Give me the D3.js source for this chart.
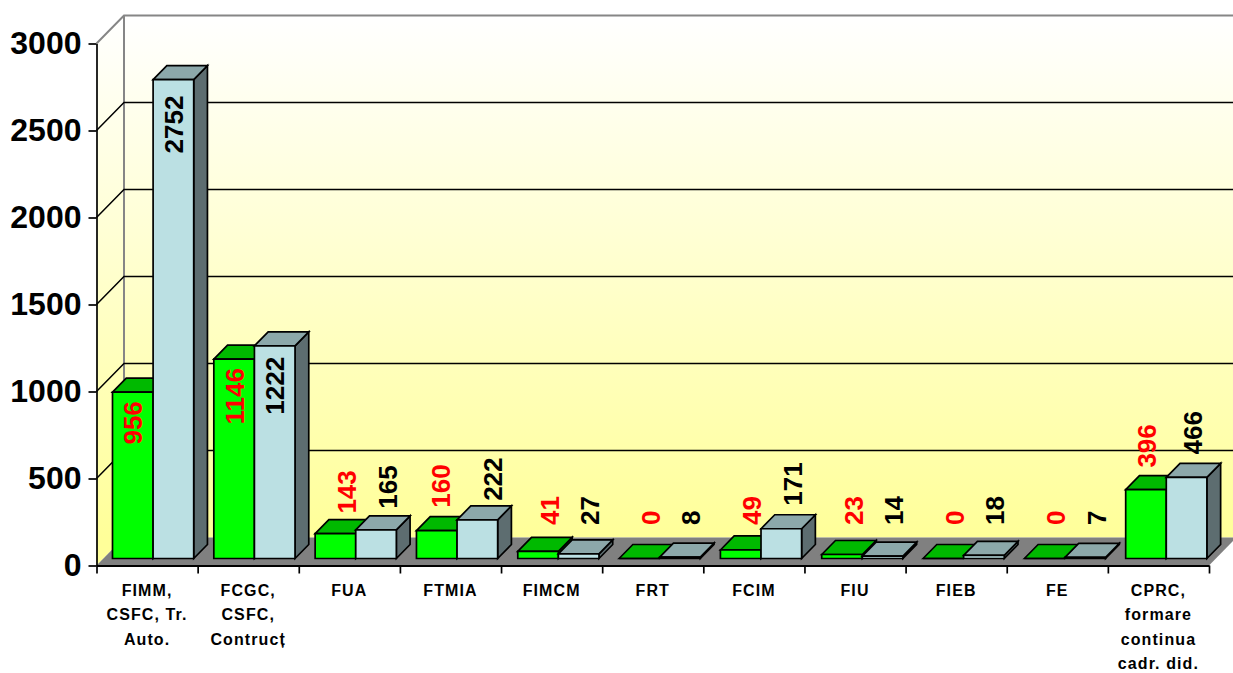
<!doctype html>
<html lang="ro">
<head>
  <meta charset="utf-8">
  <title>Studenti pe facultati</title>
  <script src="https://cdn.jsdelivr.net/npm/d3@7/dist/d3.min.js"></script>
  <style>
    html, body { margin: 0; background: #fff; }
    svg { display: block; }
    text { font-family: "Liberation Sans", Arial, sans-serif; font-weight: bold; }
  </style>
</head>
<body>
  <div id="svg_container"></div>
  <script>
  // one entry per label line
  var categories = [
    ["FIMM,", "CSFC, Tr.", "Auto."],
    ["FCGC,", "CSFC,", "Contruc\u021b"],
    ["FUA"],
    ["FTMIA"],
    ["FIMCM"],
    ["FRT"],
    ["FCIM"],
    ["FIU"],
    ["FIEB"],
    ["FE"],
    ["CPRC,", "formare", "continua", "cadr. did."]
  ];
  var greenValues = [956, 1146, 143, 160, 41, 0, 49, 23, 0, 0, 396];
  var blueValues = [2752, 1222, 165, 222, 27, 8, 171, 14, 18, 7, 466];
  var yTicks = [0, 500, 1000, 1500, 2000, 2500, 3000];

  var width = 1233,
      height = 673,
      axisLeft = 96.5,
      axisRight = 1209,
      axisBase = 565.5,
      axisTop = 43.5,
      depthX = 27.5,
      depthY = 28;

  var svg = d3.select("#svg_container").append("svg")
    .attr("width", width)
    .attr("height", height);

  var y = d3.scaleLinear().domain([0, 3000]).range([axisBase, axisTop]);
  var x = d3.scaleBand().domain(d3.range(categories.length)).range([axisLeft, axisRight]);
  // the bars drift about 2px to the right of the ticks over the whole width
  var xBar = d3.scaleBand().domain(d3.range(categories.length)).range([axisLeft, axisRight + 2]);
  var xEdge = d3.scaleLinear().domain([0, categories.length]).range([axisLeft, axisRight]);

  var backX = axisLeft + depthX,
      backBase = axisBase - depthY,
      backTop = axisTop - depthY;

  var grad = svg.append("defs").append("linearGradient")
    .attr("id", "wall")
    .attr("gradientUnits", "userSpaceOnUse")
    .attr("x1", 0).attr("x2", 0)
    .attr("y1", backTop).attr("y2", backBase);
  grad.append("stop").attr("offset", 0).attr("stop-color", "#ffffff");
  grad.append("stop").attr("offset", 1).attr("stop-color", "#ffff99");

  function poly(g, pts, fill, stroke, sw) {
    return g.append("polygon")
      .attr("points", pts.map(function(p) { return p.join(","); }).join(" "))
      .attr("fill", fill)
      .attr("stroke", stroke || "none")
      .attr("stroke-width", sw || 0)
      .attr("stroke-linejoin", "miter");
  }

  // walls and floor
  poly(svg, [[backX, backTop], [width + 5, backTop], [width + 5, backBase], [backX, backBase]], "url(#wall)");
  poly(svg, [[axisLeft, axisTop], [backX, backTop], [backX, backBase], [axisLeft, axisBase]], "url(#wall)");
  poly(svg, [[axisLeft, axisBase], [axisRight, axisBase], [axisRight + depthX, backBase], [backX, backBase]], "#808080");

  svg.append("path")
    .attr("d", "M" + axisLeft + "," + axisTop + "L" + backX + "," + backTop + "H" + (width + 5) +
               "M" + backX + "," + backTop + "V" + backBase)
    .attr("fill", "none")
    .attr("stroke", "#868686")
    .attr("stroke-width", 2);

  var grid = yTicks.filter(function(d) { return d > 0 && d < 3000; });
  svg.selectAll(".grid")
    .data(grid)
    .enter().append("path")
    .attr("class", "grid")
    .attr("d", function(d) {
      return "M" + axisLeft + "," + y(d) + "L" + backX + "," + (y(d) - depthY) + "H" + (width + 5);
    })
    .attr("fill", "none")
    .attr("stroke", "#000")
    .attr("stroke-width", 1.5);

  // axes
  var yAxis = svg.append("g")
    .attr("transform", "translate(" + axisLeft + ",0)")
    .call(d3.axisLeft(y).tickValues(yTicks).tickFormat(d3.format("d")).tickSize(8).tickPadding(7).tickSizeOuter(0));
  yAxis.selectAll("text").attr("font-size", 32).attr("fill", "#000");
  yAxis.selectAll("line, path").attr("stroke", "#000").attr("stroke-width", 1.7);

  var xAxis = svg.append("g")
    .attr("transform", "translate(0," + axisBase + ")")
    .call(d3.axisBottom(xEdge).tickValues(d3.range(categories.length + 1)).tickSize(8).tickFormat("").tickSizeOuter(0));
  xAxis.selectAll("line").attr("stroke", "#000").attr("stroke-width", 1.7);
  xAxis.select("path").attr("stroke", "#000").attr("stroke-width", 2);

  // bars stand a quarter of the way into the floor and take half its depth
  var barInsetY = depthY / 4,
      barDepthX = depthX / 2,
      barDepthY = depthY / 2,
      barWidth = 40.6,
      barShift = 16;

  function drawBar(g, bx, value, colors) {
    var top = y(value) - barInsetY,
        bottom = axisBase - barInsetY,
        w = barWidth;
    poly(g, [[bx + w, top], [bx + w + barDepthX, top - barDepthY], [bx + w + barDepthX, bottom - barDepthY], [bx + w, bottom]], colors.side, "#000", 1.7);
    poly(g, [[bx, top], [bx + barDepthX, top - barDepthY], [bx + w + barDepthX, top - barDepthY], [bx + w, top]], colors.top, "#000", 1.7);
    poly(g, [[bx, top], [bx + w, top], [bx + w, bottom], [bx, bottom]], colors.front, "#000", 1.7);
  }

  var greenFaces = {front: "#00ff00", top: "#00b900", side: "#007f00"};
  var blueFaces = {front: "#bbe0e3", top: "#8ca8aa", side: "#5d6d70"};

  var bars = svg.append("g");
  categories.forEach(function(c, i) {
    var bx = xBar(i) + barShift;
    drawBar(bars, bx, greenValues[i], greenFaces);
    drawBar(bars, bx + barWidth, blueValues[i], blueFaces);
  });

  // value labels: tall bars carry them inside, the rest above the top face.
  // a few were dragged by hand in the original, hence the nudges
  var nudgeX = {160: -7, 222: 4, 396: -10, 466: -5};
  var nudgeY = {2752: 7, 1222: 2, 143: 3, 165: 2, 222: 4, 396: 1};

  function addLabel(value, bx, color) {
    var top = y(value) - barInsetY,
        inside = value > 900,
        cx = bx + barWidth / 2 + (inside ? 0 : 11) + (nudgeX[value] || 0),
        pos = (inside ? top + 9 : Math.min(525, top - 23)) + (nudgeY[value] || 0);
    svg.append("text")
      .attr("transform", "translate(" + (cx + 9.5) + "," + pos + ") rotate(-90)")
      .attr("text-anchor", inside ? "end" : "start")
      .attr("font-size", 26)
      .attr("fill", color)
      .text(value);
  }

  categories.forEach(function(c, i) {
    var bx = xBar(i) + barShift;
    addLabel(greenValues[i], bx, "#ff0000");
    addLabel(blueValues[i], bx + barWidth, "#000");
  });

  // category labels
  var catLabels = svg.selectAll(".cat")
    .data(categories)
    .enter().append("text")
    .attr("class", "cat")
    .attr("text-anchor", "middle")
    .attr("font-size", 16)
    .attr("letter-spacing", 1.1)
    .attr("fill", "#000");
  catLabels.selectAll("tspan")
    .data(function(d, i) { return d.map(function(t, j) { return {t: t, j: j, i: i}; }); })
    .enter().append("tspan")
    .attr("x", function(d) { return x(d.i) + x.bandwidth() / 2; })
    .attr("y", function(d) { return 596 + d.j * 24.3; })
    .text(function(d) { return d.t; });
  </script>
</body>
</html>
